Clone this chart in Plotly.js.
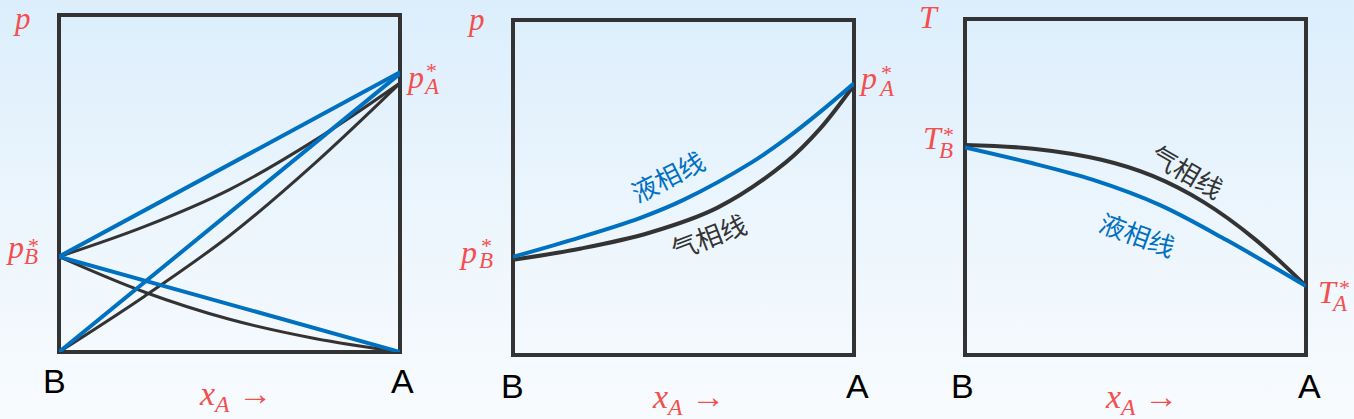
<!DOCTYPE html>
<html>
<head>
<meta charset="utf-8">
<script src="https://cdn.plot.ly/plotly-3.0.1.min.js"></script>
<style>
  html, body { margin: 0; padding: 0; }
  body { width: 1354px; height: 419px; overflow: hidden;
         background: linear-gradient(to bottom, #dceefc 0%, #edf6fd 55%, #f8fbfe 100%); }
  #chart { width: 1354px; height: 419px; }
</style>
</head>
<body>
<div id="chart"></div>
<script>
// ---------------- DATA ----------------
// Panel 1: ideal solution p–x diagram (partial and total pressures)
const p1LineX = [0, 1];
const p1TotalLiqY = [0.283, 0.830];       // total pressure vs x_A (liquid, straight)
const p1PartialALiqY = [0, 0.826];        // p_A vs x_A
const p1PartialBLiqY = [0.283, 0];        // p_B vs x_A
const p1CurveX = [0, 0.25, 0.5, 0.75, 1];
const p1TotalVapY = [0.283, 0.372, 0.482, 0.628, 0.798];
const p1PartialAVapY = [0, 0.165, 0.345, 0.560, 0.798];
const p1PartialBVapY = [0.283, 0.178, 0.097, 0.040, 0];

// Panel 2: p–x diagram
const p2LiqX = [0, 0.17, 0.37, 0.5, 0.7, 0.8, 0.9, 1];
const p2LiqY = [0.293, 0.343, 0.408, 0.463, 0.575, 0.645, 0.725, 0.811];
const p2VapX = [0, 0.2, 0.4, 0.6, 0.8, 0.9, 1];
const p2VapY = [0.284, 0.318, 0.365, 0.440, 0.575, 0.675, 0.806];

// Panel 3: T–x diagram
const p3VapX = [0, 0.2, 0.4, 0.55, 0.7, 0.85, 1];
const p3VapY = [0.625, 0.614, 0.581, 0.533, 0.455, 0.345, 0.205];
const p3LiqX = [0, 0.18, 0.376, 0.572, 0.767, 1];
const p3LiqY = [0.618, 0.575, 0.521, 0.446, 0.342, 0.205];

const endLabels = ['B', 'A'];
const phaseLabels = {liq: '液相线', vap: '气相线'};

// ---------------- LAYOUT ----------------
const W = 1354, H = 419;
const BLUE = '#0070c0', DARK = '#333333', RED = '#f44f4f';
const boxes = [
  {x0: 59, x1: 400, y0: 15, y1: 352},
  {x0: 513, x1: 854, y0: 20, y1: 355},
  {x0: 965, x1: 1306, y0: 19, y1: 355}
];

function line(x, y, color, width, axis, spline) {
  return {
    type: 'scatter', mode: 'lines', x: x, y: y,
    xaxis: 'x' + axis, yaxis: 'y' + axis, hoverinfo: 'skip',
    line: {color: color, width: width, shape: spline ? 'spline' : 'linear', smoothing: 1}
  };
}
const data = [
  // panel 1 (black first, blue on top)
  line(p1CurveX, p1TotalVapY, DARK, 3, '', true),
  line(p1CurveX, p1PartialAVapY, DARK, 3, '', true),
  line(p1CurveX, p1PartialBVapY, DARK, 3, '', true),
  line(p1LineX, p1TotalLiqY, BLUE, 4, '', false),
  line(p1LineX, p1PartialALiqY, BLUE, 4, '', false),
  line(p1LineX, p1PartialBLiqY, BLUE, 4, '', false),
  // panel 2
  line(p2VapX, p2VapY, DARK, 4, '2', true),
  line(p2LiqX, p2LiqY, BLUE, 4, '2', true),
  // panel 3
  line(p3VapX, p3VapY, DARK, 4, '3', true),
  line(p3LiqX, p3LiqY, BLUE, 4, '3', true)
];

const layout = {
  width: W, height: H,
  margin: {l: 0, r: 0, t: 0, b: 0},
  paper_bgcolor: 'rgba(0,0,0,0)',
  plot_bgcolor: 'rgba(0,0,0,0)',
  showlegend: false,
  shapes: [],
  annotations: []
};
boxes.forEach((b, i) => {
  const s = i === 0 ? '' : String(i + 1);
  const ax = {range: [0, 1], visible: false, fixedrange: true};
  layout['xaxis' + s] = Object.assign({}, ax, {domain: [b.x0 / W, b.x1 / W], anchor: 'y' + s});
  layout['yaxis' + s] = Object.assign({}, ax, {domain: [(H - b.y1) / H, (H - b.y0) / H], anchor: 'x' + s});
  layout.shapes.push({type: 'rect', xref: 'paper', yref: 'paper',
    x0: b.x0 / W, x1: b.x1 / W, y0: 1 - b.y1 / H, y1: 1 - b.y0 / H,
    line: {color: DARK, width: 4}, layer: 'below'});
});

function ann(text, px, py, size, color, family, angle, yanchor) {
  layout.annotations.push({
    text: text, xref: 'paper', yref: 'paper', x: px / W, y: 1 - py / H,
    xanchor: 'center', yanchor: yanchor || 'middle', showarrow: false, textangle: angle || 0,
    borderpad: 0,
    font: {size: size, color: color, family: family}
  });
}
const SERIF = 'Liberation Serif, DejaVu Serif, serif';
const SANS = 'Liberation Sans, Arial, sans-serif';
const CJK = 'Noto Sans CJK SC, sans-serif';

// symbol with sub & star: main glyph, subscript letter, superscript star
function starred(main, sub, mx, my, sx, sy, tx, ty) {
  ann('<i>' + main + '</i>', mx, my, 32, RED, SERIF);
  ann('<i>' + sub + '</i>', sx, sy, 23, RED, SERIF);
  ann('*', tx, ty, 22, RED, SERIF);
}

// panel 1
ann('<i>p</i>', 22, 0, 31, RED, SERIF, 0, 'top');
starred('p', 'B', 15, 247, 31, 256, 33, 245);
starred('p', 'A', 415, 77, 431, 86, 431, 70);
// panel 2
ann('<i>p</i>', 476, 1, 31, RED, SERIF, 0, 'top');
starred('p', 'B', 468, 252, 486, 260, 486, 245);
starred('p', 'A', 868, 78, 886, 88, 886, 72);
// panel 3
ann('<i>T</i>', 929, 17, 32, RED, SERIF);
starred('T', 'B', 933, 138, 946, 150, 949, 134);
starred('T', 'A', 1328, 292, 1339, 303, 1344, 287);

// B / A end labels and x_A axis labels
const endPos = [[54, 402.5, 381, 235, 396], [512.5, 857.5, 386, 688, 399], [962.5, 1309.5, 386, 1141, 399]];
endPos.forEach(e => {
  ann(endLabels[0], e[0], e[2], 34, '#000000', SANS);
  ann(endLabels[1], e[1], e[2], 34, '#000000', SANS);
  ann('<i>x</i><sub><i>A</i></sub> →', e[3], e[4], 34, RED, SERIF);
});

// phase line labels
ann(phaseLabels.liq, 667, 175, 26, BLUE, CJK, -27);
ann(phaseLabels.vap, 708, 235, 26, DARK, CJK, -21);
ann(phaseLabels.vap, 1188, 170, 26, DARK, CJK, 30);
ann(phaseLabels.liq, 1138, 233, 26, BLUE, CJK, 20);

Plotly.newPlot('chart', data, layout, {staticPlot: true, displayModeBar: false});
</script>
</body>
</html>
